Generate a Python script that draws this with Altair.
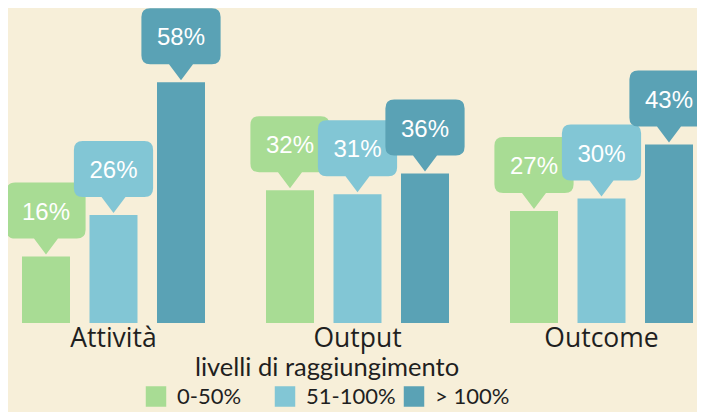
import altair as alt
import pandas as pd

categories = ["Attività", "Output", "Outcome"]
series = ["0-50%", "51-100%", "> 100%"]
v_low = [16, 32, 27]
v_mid = [26, 31, 30]
v_high = [58, 36, 43]
colors = ["#a8dc94", "#82c6d5", "#5aa2b5"]

rows = []
for i, cat in enumerate(categories):
    for s, vals in zip(series, [v_low, v_mid, v_high]):
        rows.append({"categoria": cat, "livello": s, "valore": vals[i],
                     "etichetta": f"{vals[i]}%"})
df = pd.DataFrame(rows)

# callout shape (speech bubble) with tip at the anchor point; unit = sqrt(size)/2 px
hw, pb, bh, r, pw = 0.99, -0.40, 1.40, 0.22, 0.30
bt = pb - bh
def f(v):
    return f"{v:.3f}"
callout = (
    f"M0,0 L{f(-pw)},{f(pb)} L{f(-hw + r)},{f(pb)} Q{f(-hw)},{f(pb)} {f(-hw)},{f(pb - r)} "
    f"L{f(-hw)},{f(bt + r)} Q{f(-hw)},{f(bt)} {f(-hw + r)},{f(bt)} "
    f"L{f(hw - r)},{f(bt)} Q{f(hw)},{f(bt)} {f(hw)},{f(bt + r)} "
    f"L{f(hw)},{f(pb - r)} Q{f(hw)},{f(pb)} {f(hw - r)},{f(pb)} L{f(pw)},{f(pb)} Z"
)

y_scale = alt.Scale(domain=[0, 60], nice=False, zero=True)
color_enc = alt.Color(
    "livello:N",
    scale=alt.Scale(domain=series, range=colors),
    legend=alt.Legend(
        title="livelli di raggiungimento", orient="none", legendX=123, legendY=282,
        direction="horizontal", titleAnchor="middle", titleFontSize=25.5,
        titleFont="Lato", titleFontWeight="normal", titleColor="#1f1f1f",
        titlePadding=4, titleLimit=0, labelFontSize=22, labelFont="Lato",
        labelColor="#1f1f1f", symbolType="square", symbolSize=420,
        symbolStrokeWidth=0, symbolOpacity=1, labelOffset=10, columnPadding=7,
        gridAlign="all", padding=0,
    ),
)

base = alt.Chart(df).encode(
    x=alt.X("categoria:N", sort=categories, title=None,
            scale=alt.Scale(paddingInner=0.25, paddingOuter=0),
            axis=alt.Axis(domain=False, ticks=False, labelAngle=0, labelFontSize=26.5,
                          labelFont="Open Sans", labelColor="#1f1f1f", labelPadding=2)),
    xOffset=alt.XOffset("livello:N", sort=series,
                        scale=alt.Scale(paddingInner=0.289, paddingOuter=0)),
    y=alt.Y("valore:Q", scale=y_scale, axis=None),
)

bars = base.mark_bar(opacity=1).encode(color=color_enc)
boxes = base.mark_point(shape=callout, size=6400, filled=True, opacity=1,
                        strokeWidth=0, yOffset=-2).encode(color=color_enc)
texts = base.mark_text(dy=-44, fontSize=24, font="Liberation Sans", color="white",
                       baseline="middle", align="center").encode(text="etichetta:N")

chart = alt.layer(bars, boxes, texts).properties(
    width=671, height=249,
    padding={"left": 14, "top": 66, "right": 4, "bottom": 89},
    autosize=alt.AutoSizeParams(type="none"),
    background="#f7efd9",
).configure_view(stroke=None)

chart.save("out.html", embed_options={"renderer": "svg", "actions": False})
